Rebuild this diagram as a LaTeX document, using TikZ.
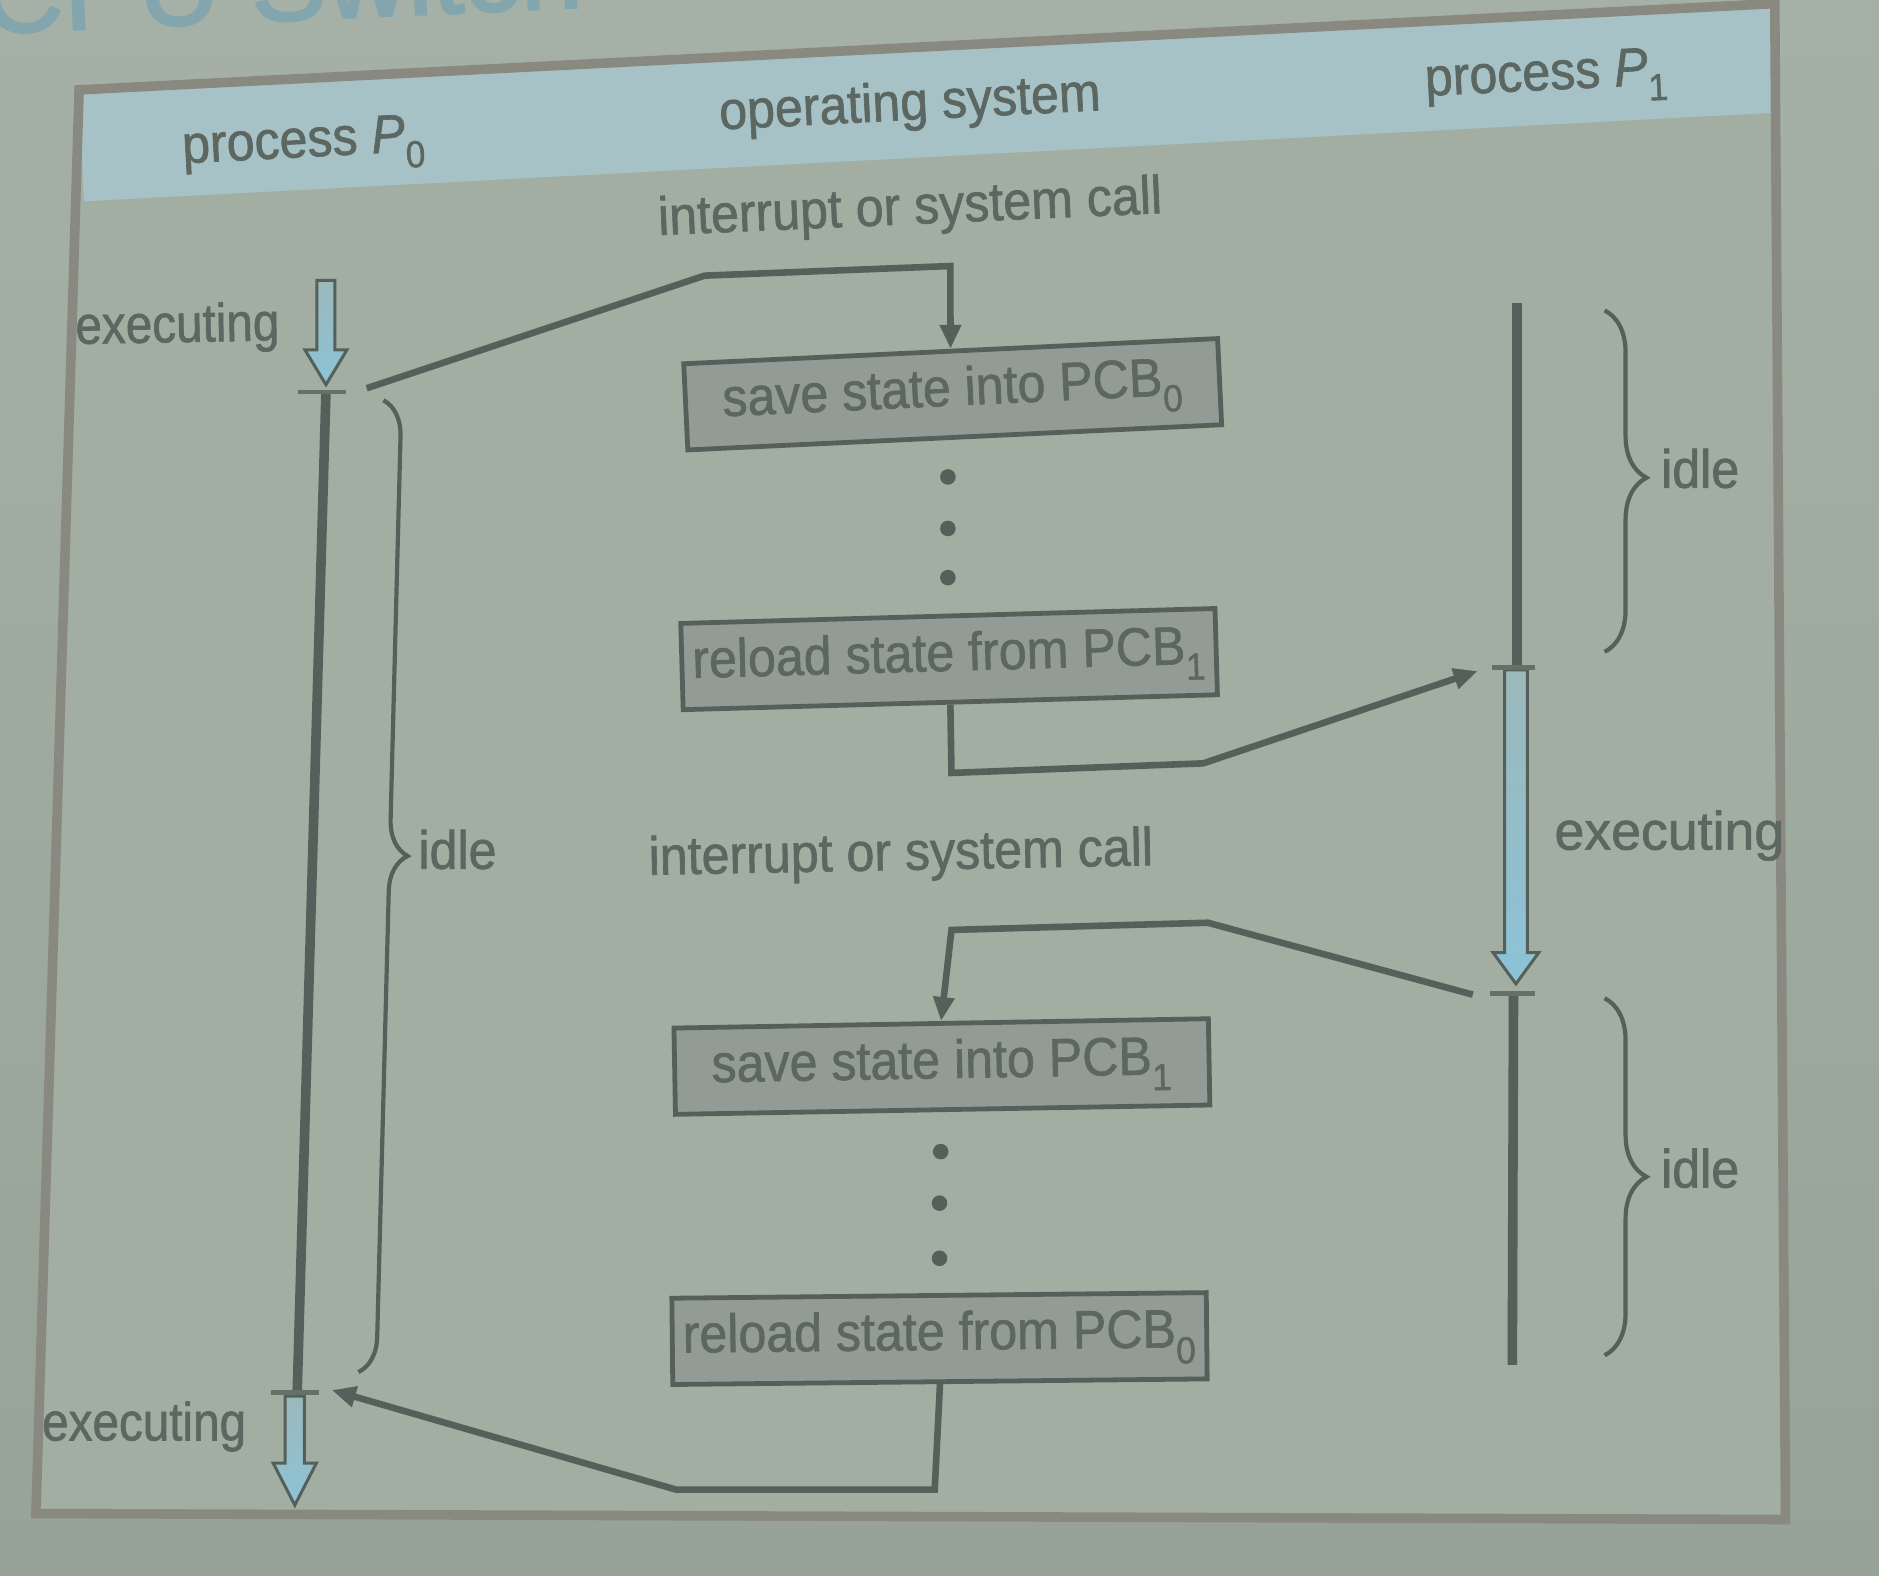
\documentclass[tikz,border=0pt]{standalone}
\usepackage{fontspec}
\setmainfont{Liberation Sans}[FakeStretch=0.93, FakeBold=1.2]
\newfontfamily\titlefont{Liberation Sans}[FakeBold=2]
\usetikzlibrary{arrows.meta,decorations.pathreplacing}
\definecolor{bgtop}{HTML}{A5B1A6}
\definecolor{bgbot}{HTML}{97A397}
\definecolor{innerc}{HTML}{A2AEA2}
\definecolor{bandc}{HTML}{A6C2C7}
\definecolor{framec}{HTML}{8A897F}
\definecolor{inkc}{HTML}{5C6761}
\definecolor{linec}{HTML}{55605A}
\definecolor{boxfill}{HTML}{929B96}
\definecolor{bluearr}{HTML}{8CC3D8}
\definecolor{titlec}{HTML}{83A5AD}
\newcommand{\exarrow}[6]{% x, ytop, ybase, ytip, half shaft, half head
  \shade[top color=bgtop!60!bluearr, bottom color=bluearr, draw=linec, line width=2.5pt, line join=miter]
   (#1-#5,#2) -- (#1+#5,#2) -- (#1+#5,#3) -- (#1+#6,#3) -- (#1,#4) -- (#1-#6,#3) -- (#1-#5,#3) -- cycle;}
\begin{document}
\begin{tikzpicture}[x=1pt,y=-1pt,
  lbl/.style={text=inkc, font=\fontsize{45}{50}\selectfont, inner sep=0pt},
  pcb/.style={draw=linec, line width=4pt, fill=boxfill, minimum width=446pt, minimum height=72pt,
              inner sep=0pt, text=inkc, font=\fontsize{45}{50}\selectfont},
  conn/.style={draw=linec, line width=5.5pt, line join=miter},
  arr/.style={conn, -{Triangle[length=20pt,width=17pt]}},
  tline/.style={draw=linec, line width=8pt},
  xbar/.style={draw=linec!80!bgtop, line width=3.5pt},
  brc/.style={draw=linec, line width=3.5pt, decorate},
  dot/.style={circle, fill=linec, inner sep=0pt, minimum size=13pt},
]
\useasboundingbox (0,0) rectangle (1568,1315);
\shade[top color=bgtop, bottom color=bgbot] (0,0) rectangle (1568,1315);
% partial slide title
\begin{scope}
\clip (0,0) rectangle (1568,1315);
\node[anchor=base west, rotate=2.5, text=titlec, font=\titlefont\fontsize{94}{100}\selectfont, inner sep=0pt]
  (title) at (-14,28) {CPU Switch};
\end{scope}
% frame and header band
\fill[innerc] (66,75) -- (1481,3) -- (1490,1268) -- (30,1263) -- cycle;
\fill[bandc] (66,75) -- (1481,3) -- (1482,94) -- (70,168) -- cycle;
\draw[framec, line width=8pt, line join=miter] (66,75) -- (1481,3) -- (1490,1268) -- (30,1263) -- cycle;
% header labels
\node[lbl, anchor=base, rotate=3] (p0lbl) at (254,131) {process \textit{P}\textsubscript{0}};
\node[lbl, anchor=base, rotate=2.9] (oslbl) at (760,100) {operating system};
\node[lbl, anchor=base, rotate=2.8] (p1lbl) at (1291,75) {process \textit{P}\textsubscript{1}};
% interrupt labels
\node[lbl, anchor=base, rotate=2.5] (irq1) at (760,187) {interrupt or system call};
\node[lbl, anchor=base, rotate=1.1] (irq2) at (752,726) {interrupt or system call};
% state labels
\node[lbl, anchor=base west, rotate=1] (ex0a) at (63,287) {\scalebox{0.95}[1]{executing}};
\node[lbl, anchor=base west] (ex0b) at (35,1202) {\scalebox{0.95}[1]{executing}};
\node[lbl, anchor=base west] (ex1) at (1297,709) {\scalebox{1.07}[1]{executing}};
\node[lbl, anchor=base west] (idle0) at (349,725) {idle};
\node[lbl, anchor=base west] (idle1a) at (1386,407) {idle};
\node[lbl, anchor=base west] (idle1b) at (1386,991) {idle};
% OS boxes
\node[pcb, rotate=2.7] (b1) at (795,329) {save state into PCB\textsubscript{0}};
\node[pcb, rotate=1.6] (b2) at (792,550) {reload state from PCB\textsubscript{1}};
\node[pcb, rotate=1.0] (b3) at (786,890) {save state into PCB\textsubscript{1}};
\node[pcb, rotate=0.6] (b4) at (784,1117) {reload state from PCB\textsubscript{0}};
% dots
\node[dot] (d1) at (791,398) {};
\node[dot] (d2) at (791,441) {};
\node[dot] (d3) at (791,482) {};
\node[dot] (d4) at (785,961) {};
\node[dot] (d5) at (784,1004) {};
\node[dot] (d6) at (784,1050) {};
% timeline points
\coordinate (p0top) at (272,327);
\coordinate (p0bot) at (248,1162);
\coordinate (p1top) at (1266,253);
\coordinate (p1mid) at (1266,557);
\coordinate (p1low) at (1263,829);
\coordinate (p1end) at (1262,1139);
\coordinate (p0irq) at (306,324);
\coordinate (p1start) at (1233,560);
\coordinate (p1irq) at (1229,830);
\coordinate (p0ret) at (277,1160);
% timelines
\draw[tline] (p0top) -- (p0bot);
\draw[tline] (p1top) -- (p1mid);
\draw[tline] (p1low) -- (p1end);
% executing arrows
\exarrow{272}{234}{292}{321}{7.5}{17.5}
\exarrow{246}{1165}{1221}{1256}{8}{18}
\exarrow{1265}{559}{795}{821}{9.5}{19}
% cross bars
\draw[xbar] (249,327) -- (289,327);
\draw[xbar] (226,1162) -- (266,1162);
\draw[xbar] (1245,557) -- (1281,557);
\draw[xbar] (1243,829) -- (1281,829);
% connectors
\draw[arr] (p0irq) -- (588,230) -- (793,222) -- (b1.north);
\draw[arr] (b2.south) -- (794,645) -- (1004,637) -- (p1start);
\draw[arr] (p1irq) -- (1008,770) -- (794,776) -- (b3.north);
\draw[arr] (b4.south) -- (780,1243) -- (564,1243) -- (p0ret);
% braces
\draw[brc, decoration={brace, amplitude=30pt, aspect=0.468}] (320,334) -- (299,1145);
\draw[brc, decoration={brace, amplitude=35pt, aspect=0.49}] (1339,259) -- (1339,544);
\draw[brc, decoration={brace, amplitude=35pt, aspect=0.5}] (1339,833) -- (1339,1131);
\end{tikzpicture}
\end{document}
